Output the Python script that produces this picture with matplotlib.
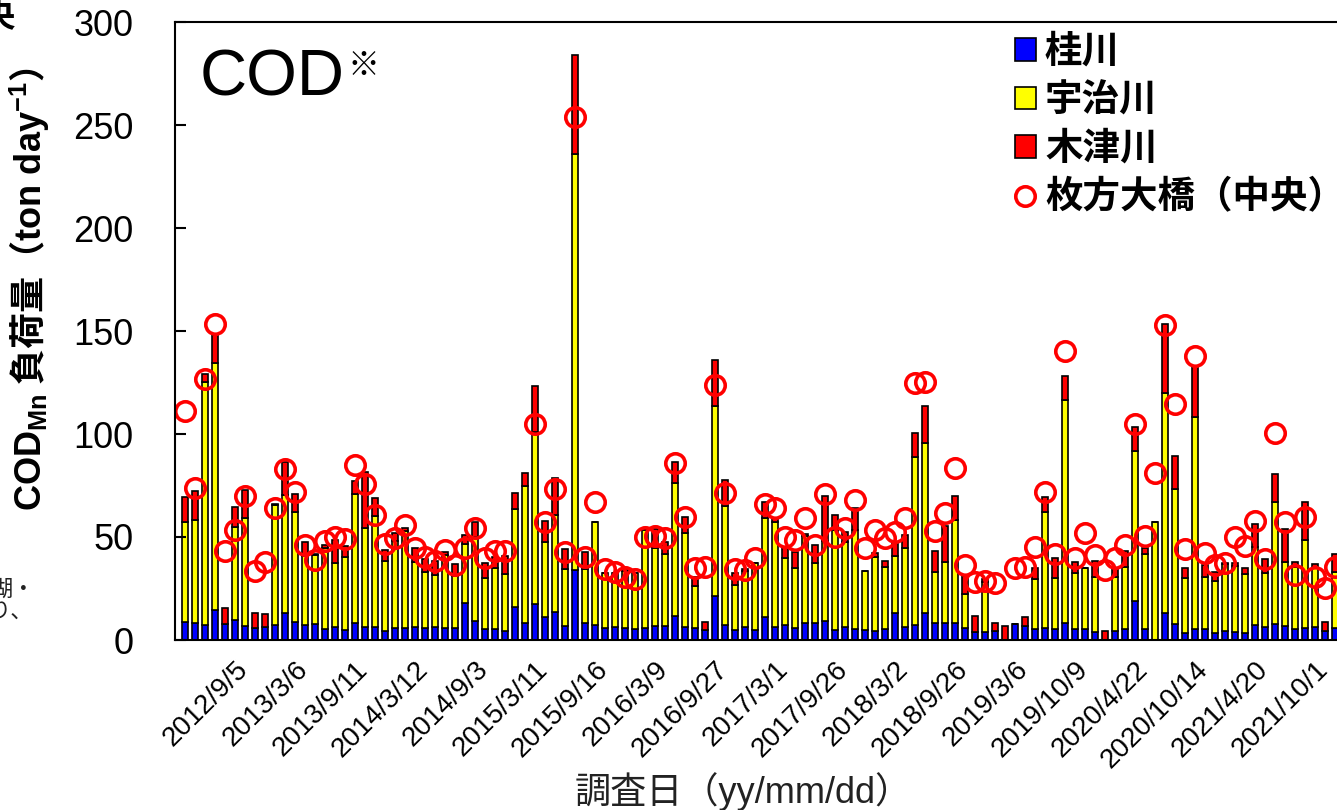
import numpy as np
import matplotlib.pyplot as plt
from matplotlib.patches import Patch
from matplotlib.lines import Line2D

plt.rcParams['font.family'] = ['Liberation Sans', 'Noto Sans CJK JP']
plt.rcParams['mathtext.fontset'] = 'custom'
plt.rcParams['mathtext.rm'] = 'Liberation Sans'
plt.rcParams['mathtext.bf'] = 'Liberation Sans:bold'
plt.rcParams['mathtext.it'] = 'Liberation Sans:italic'

# COD load (ton/day) per survey
katsura = [8.9, 8.4, 7.3, 14.6, 7.8, 9.7, 6.8, 5.7, 6.5, 7.3, 12.9, 8.9, 7.3, 7.8, 5.2, 6.5, 4.9, 8.4, 6.5, 6.5,
           4.5, 5.7, 5.7, 6.1, 5.7, 6.1, 5.7, 5.7, 18.1, 9.4, 5.2, 5.2, 4.5, 15.9, 8.1, 17.5, 11.0, 13.8, 6.8, 34.0,
           8.4, 7.3, 5.7, 6.5, 5.7, 5.2, 5.7, 6.8, 6.8, 11.7, 6.5, 5.7, 4.9, 21.4, 7.3, 4.9, 6.1, 4.9, 11.0, 6.5,
           7.3, 5.7, 8.1, 8.4, 9.4, 4.9, 6.5, 5.2, 4.9, 4.5, 5.2, 13.3, 6.1, 7.3, 13.3, 8.1, 8.4, 8.1, 5.7, 4.0,
           4.0, 4.5, 0.0, 7.8, 6.8, 5.2, 5.7, 5.2, 8.4, 5.2, 5.2, 4.0, 0.0, 4.5, 5.2, 19.1, 5.2, 0.0, 13.3, 7.8,
           3.6, 5.2, 5.2, 3.6, 4.5, 4.0, 3.6, 7.3, 6.1, 7.8, 6.8, 5.2, 5.7, 6.1, 4.4, 5.7]
uji = [48.5, 49.9, 118.1, 120.0, 0.0, 45.3, 52.2, 0.0, 0.0, 58.2, 57.5, 53.4, 33.5, 33.5, 39.3, 30.7, 35.6, 62.5, 48.0, 53.5,
       34.0, 42.3, 47.3, 31.9, 27.5, 25.5, 35.8, 25.5, 28.3, 40.6, 24.8, 29.6, 27.5, 47.7, 66.7, 83.5, 36.7, 46.9, 27.5, 202.0,
       25.9, 50.1, 26.7, 25.9, 27.8, 27.5, 47.8, 37.7, 34.9, 64.3, 45.3, 20.5, 0.0, 92.2, 57.7, 21.8, 27.4, 32.3, 48.1, 50.9,
       32.3, 29.1, 42.4, 28.8, 38.6, 48.5, 41.2, 48.2, 28.8, 36.0, 30.4, 27.5, 38.4, 81.7, 82.2, 25.1, 29.6, 50.2, 16.6, 0.0,
       24.0, 0.0, 0.0, 0.0, 0.0, 24.2, 56.3, 24.7, 108.1, 27.2, 29.9, 26.4, 0.0, 25.9, 30.4, 72.8, 36.5, 57.2, 106.4, 65.3,
       26.3, 102.9, 25.5, 25.2, 32.3, 32.0, 28.4, 38.0, 26.6, 59.0, 30.9, 30.4, 42.8, 28.7, 0.0, 27.5]
kizu = [12.2, 14.0, 3.6, 13.4, 7.6, 9.7, 13.8, 7.2, 6.0, 0.4, 15.8, 8.6, 6.6, 0.4, 1.6, 11.3, 5.3, 6.3, 27.2, 9.0,
        5.2, 3.8, 1.5, 6.5, 6.0, 6.9, 1.1, 5.5, 4.6, 7.4, 7.2, 5.7, 8.8, 7.9, 6.4, 22.3, 10.2, 18.1, 9.7, 48.0,
        8.6, 0.0, 0.3, 0.0, 0.5, 0.0, 0.7, 9.2, 6.0, 10.2, 8.1, 4.5, 4.0, 22.3, 12.7, 5.7, 0.8, 0.0, 8.1, 1.7,
        5.7, 7.8, 0.8, 8.9, 21.9, 7.3, 4.9, 10.5, 0.0, 1.9, 2.7, 6.4, 6.5, 11.3, 18.1, 10.2, 17.5, 11.6, 8.8, 7.7,
        1.4, 3.9, 6.8, 0.0, 4.5, 5.7, 7.6, 9.7, 11.7, 5.6, 0.0, 8.1, 4.5, 4.4, 7.8, 11.7, 2.8, 0.0, 33.7, 16.4,
        5.2, 24.9, 5.7, 4.4, 0.4, 1.5, 2.8, 11.0, 6.5, 13.6, 16.0, 2.4, 18.7, 2.1, 4.2, 8.5]
hirakata = [111.2, 74.0, 126.7, 153.2, 43.4, 53.4, 69.9, 33.7, 38.0, 63.9, 82.8, 71.7, 46.1, 38.8, 48.2, 49.8, 48.9, 85.0, 75.6, 60.7,
            46.4, 49.4, 55.8, 44.5, 40.5, 38.5, 43.7, 36.4, 44.5, 54.2, 39.6, 43.4, 43.4, np.nan, np.nan, 104.7, 57.4, 73.3, 42.6, 254.0,
            40.5, 67.2, 34.3, 33.2, 30.7, 29.4, 49.8, 50.5, 49.4, 86.1, 59.5, 34.8, 35.6, 123.8, 71.5, 34.3, 34.0, 40.0, 66.0, 63.9,
            49.8, 48.5, 59.1, 46.1, 70.9, 50.2, 54.5, 68.0, 44.5, 53.4, 49.4, 52.6, 59.1, 124.6, 125.4, 53.1, 61.8, 83.3, 36.4, 28.3,
            28.6, 27.8, np.nan, 34.8, 35.6, 45.0, 72.0, 41.7, 140.3, 39.6, 51.8, 41.3, 34.0, 39.6, 46.1, 104.7, 50.4, 81.2, 152.9, 114.6,
            44.0, 137.9, 42.1, 36.4, 37.2, 50.2, 45.8, 57.9, 39.2, 100.6, 57.4, 31.6, 59.5, 30.7, 25.1, 35.6]

tick_labels = ['2012/9/5', '2013/3/6', '2013/9/11', '2014/3/12', '2014/9/3', '2015/3/11', '2015/9/16',
               '2016/3/9', '2016/9/27', '2017/3/1', '2017/9/26', '2018/3/2', '2018/9/26', '2019/3/6',
               '2019/10/9', '2020/4/22', '2020/10/14', '2021/4/20', '2021/10/1']

W, H = 1337, 810
fig = plt.figure(figsize=(W / 100, H / 100), dpi=100)
# axes box in pixels; right edge runs past the picture like the cropped original
ax = fig.add_axes([175 / W, 170 / H, 1170 / W, 618 / H])

x = np.arange(len(katsura))
k = np.array(katsura)
u = np.array(uji)
z = np.array(kizu)

bw = 0.68
ax.bar(x, k, bw, color='#0000ff', edgecolor='black', linewidth=1.2)
ax.bar(x, u, bw, bottom=k, color='#ffff00', edgecolor='black', linewidth=1.2)
ax.bar(x, z, bw, bottom=k + u, color='#ff0000', edgecolor='black', linewidth=1.2)
ax.plot(x, hirakata, 'o', ms=14, mfc='none', mec='#ff0000', mew=2.6, ls='none')

ax.set_xlim(-1, len(x))
ax.set_ylim(0, 300)
ax.set_yticks(range(0, 301, 50))
ax.tick_params(axis='y', direction='in', length=8, width=1.5, labelsize=26, pad=30)

ax.set_xticks(x[5::6])
ax.set_xticklabels(tick_labels, rotation=45, ha='right', va='top', rotation_mode='anchor', fontsize=20)
ax.tick_params(axis='x', length=0, pad=12)

for s in ax.spines.values():
    s.set_linewidth(1.5)

# titles and axis labels
fig.text(200 / W, 1 - 95 / H, 'COD', fontsize=47, ha='left', va='baseline')
fig.text(347 / W, 1 - 67 / H, '※', fontsize=23, ha='left', va='center')

fig.text(30 / W, 1 - 289 / H, r'$\mathbf{COD_{Mn}}$ 負荷量（$\mathbf{ton\ day^{-1}}$）',
         family='Noto Sans CJK JP', fontweight='bold', fontsize=26,
         rotation=90, ha='center', va='center')
fig.text(743 / W, 1 - 792 / H, '調査日（yy/mm/dd）', fontsize=26, color='#222222', ha='center', va='center')

# fragments of the neighbouring text cut by the crop
fig.text(-18 / W, 1 - 18 / H, '央', fontsize=24, fontweight='bold', ha='left', va='center')
fig.text(-10 / W, 1 - 590 / H, '湖・', fontsize=16, ha='left', va='center', color='#222222')
fig.text(-12 / W, 1 - 613 / H, 'り、', fontsize=16, ha='left', va='center', color='#222222')

handles = [Patch(facecolor='#0000ff', edgecolor='black', linewidth=1.2),
           Patch(facecolor='#ffff00', edgecolor='black', linewidth=1.2),
           Patch(facecolor='#ff0000', edgecolor='black', linewidth=1.2),
           Line2D([], [], marker='o', ms=14, mfc='none', mec='#ff0000', mew=2.6, ls='none')]
names = ['桂川', '宇治川', '木津川', '枚方大橋（中央）']
fig.legend(handles, names, loc='upper left', bbox_to_anchor=(1015 / W, 1 - 35 / H),
           frameon=False, prop={'size': 27, 'weight': 'bold'}, handlelength=0.55, handleheight=0.55,
           handletextpad=0.25, labelspacing=0.33, borderpad=0, borderaxespad=0)

fig.savefig('out.png', dpi=100)
